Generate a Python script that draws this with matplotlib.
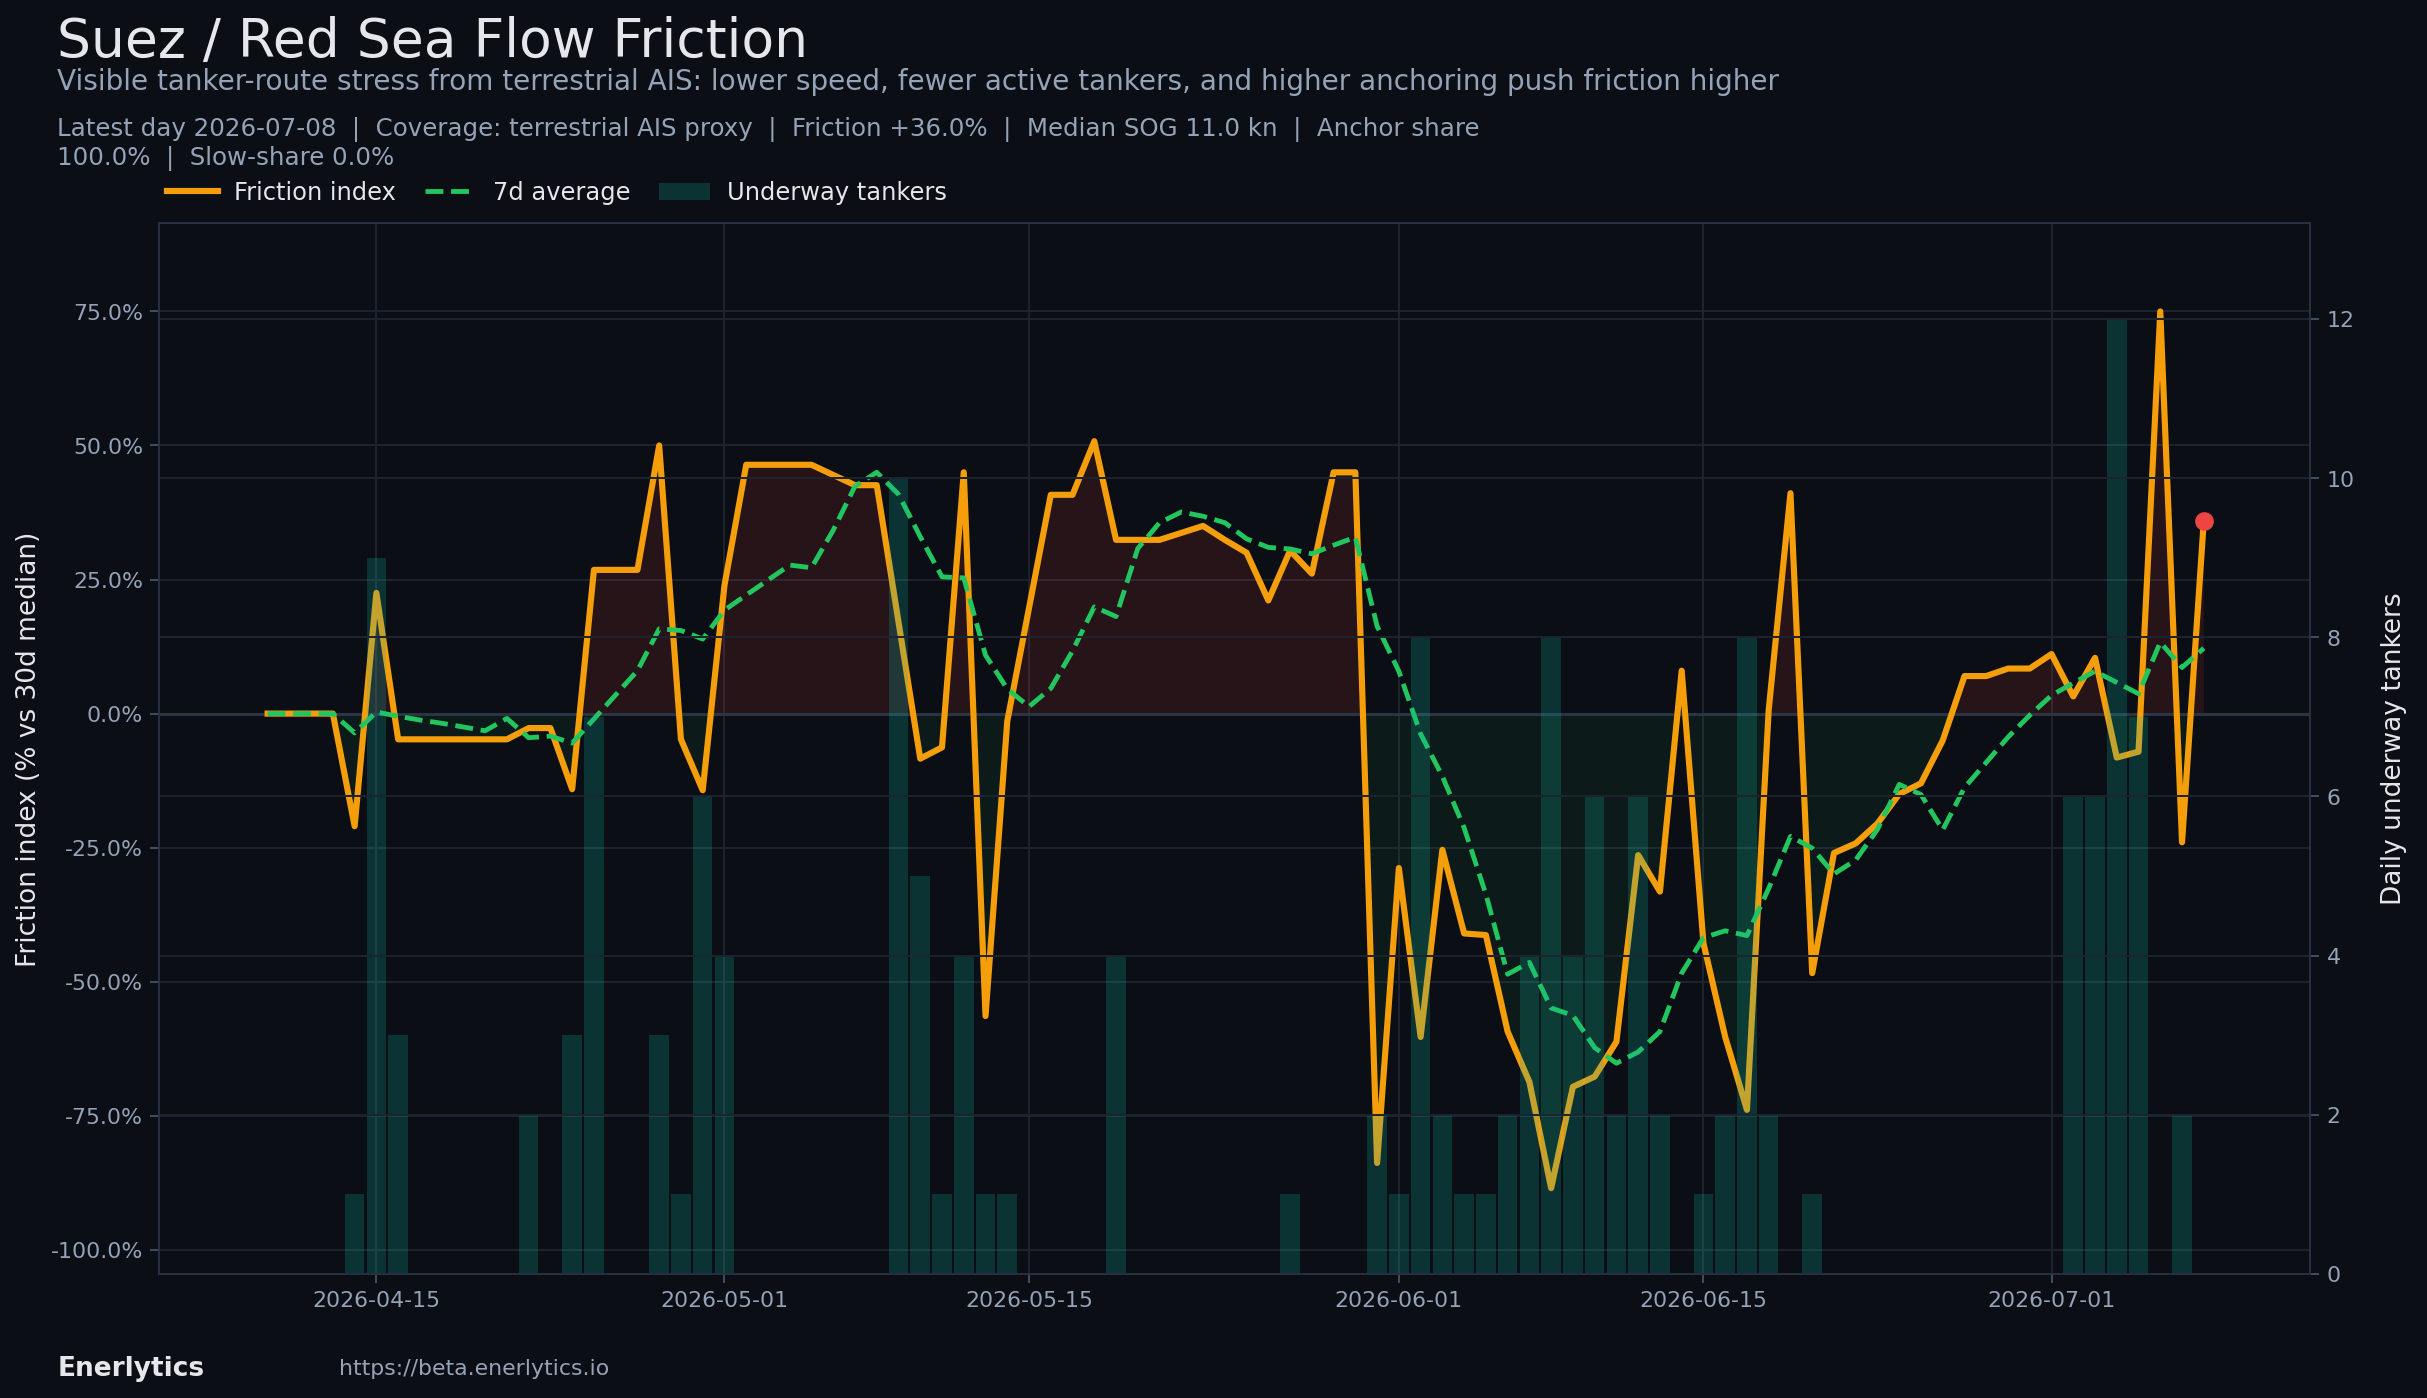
import matplotlib
matplotlib.use("Agg")
import matplotlib.pyplot as plt
import matplotlib.dates as mdates
import matplotlib.ticker as mticker
import numpy as np
import pandas as pd

# daily series, 2026-04-10 .. 2026-07-08
dates = pd.date_range("2026-04-10", "2026-07-08", freq="D")

friction = [0.0, 0.0, 0.0, 0.0, -21.0, 22.5, -4.8, -4.8, -4.8, -4.8,
            -4.8, -4.8, -2.7, -2.7, -14.1, 26.8, 26.8, 26.8, 50.0, -4.8,
            -14.3, 23.9, 46.4, 46.4, 46.4, 46.4, 44.5, 42.6, 42.6, 17.1,
            -8.4, -6.3, 45.0, -56.4, -1.4, 19.7, 40.8, 40.8, 50.8, 32.4,
            32.4, 32.4, 33.7, 35.0, 32.4, 30.0, 21.1, 30.4, 26.1, 45.0,
            45.0, -83.8, -28.8, -60.3, -25.4, -41.0, -41.3, -59.3, -68.7, -88.5,
            -69.6, -67.7, -61.2, -26.4, -33.2, 8.0, -42.8, -60.3, -73.9, 0.7,
            41.1, -48.4, -26.0, -24.2, -20.5, -15.0, -13.0, -5.0, 7.0, 7.0,
            8.4, 8.4, 11.1, 3.2, 10.4, -8.2, -7.1, 75.0, -24.0, 36.0]

avg_7d = [0.0, 0.0, 0.0, 0.0, -3.6, 0.3, -0.5, -1.2, -1.8, -2.5,
          -3.2, -0.9, -4.5, -4.2, -5.5, -1.0, 3.5, 8.0, 15.8, 15.5,
          13.9, 19.3, 22.1, 24.9, 27.7, 27.2, 34.2, 42.4, 45.0, 40.9,
          33.0, 25.5, 25.3, 10.9, 4.6, 1.3, 4.7, 11.7, 19.9, 18.1,
          30.8, 35.6, 37.6, 36.8, 35.6, 32.6, 31.0, 30.7, 29.8, 31.4,
          32.9, 16.3, 7.9, -3.8, -11.7, -21.3, -33.7, -48.6, -46.4, -54.9,
          -56.3, -62.3, -65.2, -63.1, -59.3, -48.4, -41.8, -40.5, -41.4, -32.6,
          -22.9, -25.1, -29.9, -27.3, -21.6, -13.2, -15.1, -21.7, -13.8, -9.1,
          -4.4, -0.3, 3.4, 5.7, 7.9, 5.8, 3.7, 13.3, 8.6, 12.2]

underway = [0, 0, 0, 0, 1, 9, 3, 0, 0, 0,
            0, 0, 2, 0, 3, 7, 0, 0, 3, 1,
            6, 4, 0, 0, 0, 0, 0, 0, 0, 10,
            5, 1, 4, 1, 1, 0, 0, 0, 0, 4,
            0, 0, 0, 0, 0, 0, 0, 1, 0, 0,
            0, 2, 1, 8, 2, 1, 1, 2, 4, 8,
            4, 6, 2, 6, 2, 0, 1, 2, 8, 2,
            0, 1, 0, 0, 0, 0, 0, 0, 0, 0,
            0, 0, 0, 6, 6, 12, 7, 0, 2, 0]

BG = "#0b0e14"
GRID = "#1d2430"
SPINE = "#283142"
MUTED = "#94a3b8"
LIGHT = "#e5e7eb"
ORANGE = "#f59e0b"
GREEN = "#22c55e"
TEAL = "#14b8a6"

fig = plt.figure(figsize=(2427.4 / 158, 1398.4 / 158), dpi=158, facecolor=BG)
ax = fig.add_axes([0.0657, 0.0887, 0.8861, 0.7512])
ax.set_facecolor(BG)
ax2 = ax.twinx()

f = np.array(friction)
ax.fill_between(dates, f, 0, where=f >= 0, interpolate=True, color="#ef4444", alpha=0.12, lw=0)
ax.fill_between(dates, f, 0, where=f <= 0, interpolate=True, color=GREEN, alpha=0.07, lw=0)
ax.axhline(0, color="#2b3444", lw=1.4, zorder=1)
l1, = ax.plot(dates, friction, color=ORANGE, lw=2.8, label="Friction index", zorder=3)
l2, = ax.plot(dates, avg_7d, color=GREEN, lw=2.2, ls="--", label="7d average", zorder=3)
ax.plot(dates[-1:], friction[-1:], "o", color="#ef4444", ms=7.5, zorder=5)

b = ax2.bar(dates, underway, width=0.9, color=TEAL, alpha=0.22, label="Underway tankers")

ax.set_xlim(dates[0] - pd.Timedelta(days=4.97), dates[-1] + pd.Timedelta(days=4.9))
ax.set_ylim(-104.5, 91.4)
ax2.set_ylim(0, 13.2)
ax.set_yticks([-100, -75, -50, -25, 0, 25, 50, 75])
ax.yaxis.set_major_formatter(mticker.FuncFormatter(lambda v, p: f"{v:.1f}%"))
ax2.set_yticks([0, 2, 4, 6, 8, 10, 12])
ax.xaxis.set_major_locator(mdates.DayLocator(bymonthday=[1, 15]))
ax.xaxis.set_major_formatter(mdates.DateFormatter("%Y-%m-%d"))

ax.grid(True, color=GRID, lw=0.9)
ax2.grid(True, axis="y", color=GRID, lw=0.9)
ax.set_axisbelow(True)
for a in (ax, ax2):
    for s in a.spines.values():
        s.set_color(SPINE)
    a.tick_params(colors=MUTED, labelsize=10, length=4)
    a.tick_params(axis="both", color="#475569")

ax.set_ylabel("Friction index (% vs 30d median)", color=LIGHT, fontsize=12)
ax2.set_ylabel("Daily underway tankers", color=LIGHT, fontsize=12, labelpad=12)

fig.text(0.0236, 0.970, "Suez / Red Sea Flow Friction", color=LIGHT, fontsize=24.4, va="center")
fig.text(0.0236, 0.9413, "Visible tanker-route stress from terrestrial AIS: lower speed, fewer active "
         "tankers, and higher anchoring push friction higher", color=MUTED, fontsize=12.7, va="center")
fig.text(0.0236, 0.9162, "Latest day 2026-07-08  |  Coverage: terrestrial AIS proxy  |  Friction +36.0%  |  "
         "Median SOG 11.0 kn  |  Anchor share\n100.0%  |  Slow-share 0.0%",
         color=MUTED, fontsize=11.2, va="top", linespacing=1.2)

fig.legend([l1, l2, b], ["Friction index", "7d average", "Underway tankers"],
           loc="center left", bbox_to_anchor=(0.0598, 0.8618), ncol=3, frameon=False,
           fontsize=11, labelcolor=LIGHT, handlelength=2.1, handletextpad=0.7, columnspacing=1.2)

fig.text(0.0236, 0.0211, "Enerlytics", color=LIGHT, fontsize=12, fontweight="bold", va="center")
fig.text(0.1397, 0.0211, "https://beta.enerlytics.io", color=MUTED, fontsize=10, va="center")

fig.savefig("out.png", dpi=158, facecolor=BG)
